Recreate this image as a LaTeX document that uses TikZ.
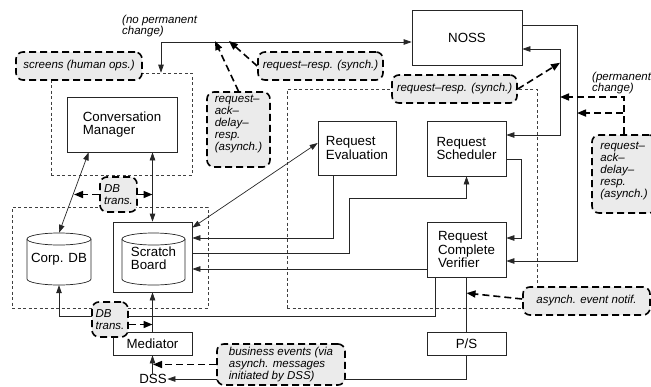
\documentclass[tikz,border=0pt]{standalone}
\usepackage{fontspec}
\setmainfont{Liberation Sans}
\usetikzlibrary{arrows.meta,calc}
\newcommand\boxfont{\fontsize{13.3}{13.5}\selectfont}
\newcommand\labfont{\fontsize{11.5}{11.9}\selectfont\itshape}
\begin{document}
\begin{tikzpicture}[x=1pt,y=-1pt,
  box/.style={draw=black!85, line width=0.7pt, fill=white, inner sep=0pt, align=left, font=\boxfont},
  ghost/.style={inner sep=0pt, align=left, font=\boxfont},
  grp/.style={draw=black!75, line width=0.6pt, dash pattern=on 3pt off 2.5pt, inner sep=0pt},
  call/.style={draw=black, line width=1.6pt, dash pattern=on 7pt off 4pt, fill=black!8, rounded corners=7pt, inner sep=0pt, align=left, font=\labfont},
  labtext/.style={inner sep=0pt, align=left, font=\labfont},
  con/.style={draw=black!85, line width=0.7pt},
  tip/.style={-{Triangle[length=8pt,width=5.5pt]}},
  dtip/.style={{Triangle[length=8pt,width=5.5pt]}-{Triangle[length=8pt,width=5.5pt]}},
  darr/.style={draw=black, line width=1.6pt, dash pattern=on 7pt off 4pt, -{Triangle[length=9pt,width=7pt]}}
]
\useasboundingbox (0,0) rectangle (651,386);

% group boxes
\node[grp, minimum width=141pt, minimum height=102pt] (gcm) at (121.5,124) {};
\node[grp, minimum width=196pt, minimum height=101pt] (gdb) at (110,257.5) {};
\node[grp, minimum width=250pt, minimum height=219pt] (grt) at (412,198.5) {};

% boxes
\node[box, minimum width=110pt, minimum height=55pt] (cm) at (122,124.5) {Conversation\\Manager};
\node[box, minimum width=110pt, minimum height=55pt] (noss) at (467,37.5) {NOSS};
\node[box, minimum width=78pt, minimum height=54pt] (re) at (357,148) {Request\\Evaluation};
\node[box, minimum width=79pt, minimum height=55pt] (rs) at (466.5,148.5) {Request\\Scheduler};
\node[box, minimum width=79pt, minimum height=55pt] (rcv) at (466.5,249.5) {Request\\Complete\\Verifier};
\node[box, minimum width=79pt, minimum height=23pt] (ps) at (466.5,343.5) {P/S};
\node[box, minimum width=79pt, minimum height=23pt] (med) at (152.5,343.5) {Mediator};
\node[box, minimum width=79pt, minimum height=70pt] (sb) at (152.5,257) {};
\node[ghost, inner sep=0.5pt] (dss) at (153,379) {DSS};

% cylinders
\draw[con,fill=white] (27,239) -- (27,279) arc[start angle=180,end angle=360,x radius=32pt,y radius=6pt] -- (91,239);
\draw[con,fill=white] (59,239) ellipse[x radius=32pt,y radius=6pt];
\node[ghost, minimum width=64pt, minimum height=52pt] (cdb) at (59,259) {Corp. DB};
\draw[con,fill=white] (122,239) -- (122,279) arc[start angle=180,end angle=360,x radius=31.5pt,y radius=6pt] -- (185,239);
\draw[con,fill=white] (153.5,239) ellipse[x radius=31.5pt,y radius=6pt];
\node[ghost, minimum width=63pt, minimum height=52pt] (sbc) at (153.5,258) {Scratch\\Board};

% helper coordinates
\coordinate (k161) at (161,42);
\coordinate (v577a) at (577,25);
\coordinate (v577b) at (577,261);
\coordinate (v560a) at (560,49);
\coordinate (v560b) at (560,135);
\coordinate (v521a) at (521,159);
\coordinate (v521b) at (521,238);
\coordinate (v333) at (333,238);
\coordinate (h253) at (349,253);
\coordinate (h198) at (349,198);
\coordinate (h269) at (400,269);
\coordinate (c435) at (435,316);
\coordinate (cmL) at ($(cm.south west)+(22,0)$);

% solid connectors
\draw[con,dtip] (k161 |- gcm.north) -- (k161) -- (noss.west |- k161);
\draw[con,tip] (noss.east |- v577a) -- (v577a) -- (v577b) -- (rcv.east |- v577b);
\draw[con,dtip] (noss.east |- v560a) -- (v560a) -- (v560b) -- (rs.east |- v560b);
\draw[con,tip] (rs.east |- v521a) -- (v521a) -- (v521b) -- (rcv.east |- v521b);
\draw[con,dtip] ($(re.west)+(0,-5)$) -- ($(sb.north east)+(0,6)$);
\draw[con,tip] (v333 |- re.south) -- (v333) -- (sb.east |- v333);
\draw[con,tip] (sb.east |- h253) -- (h253) -- (h198) -- (rs.south |- h198) -- (rs.south);
\draw[con,tip] (rcv.west |- h269) -- (sb.east |- h269);
\draw[con,tip] (c435 |- rcv.south) -- (c435) -- (cdb.south |- c435) -- (cdb.south);
\draw[con] (rcv.south) -- (ps.north);
\draw[con,tip] (ps.south) -- (ps.south |- dss.east) -- (dss.east);
\draw[con,tip] (med.south |- dss.north) -- (med.south);
\draw[con,tip] (med.north) -- (sb.south);
\draw[con,dtip] (sb.north |- cm.south) -- (sb.north);
\draw[con,dtip] (cmL) -- (cdb.north);

% callouts
\node[call, minimum width=126pt, minimum height=28pt] (scr) at (79,66) {screens (human ops.)};
\node[call, minimum width=125pt, minimum height=28pt] (rr1) at (320.5,66) {request–resp. (synch.)};
\node[call, minimum width=125pt, minimum height=28pt] (rr2) at (454.5,89) {request–resp. (synch.)};
\node[call, minimum width=63pt, minimum height=75pt] (rad1) at (238.5,129.5) {};
\node[labtext] (rad1t) at (238.5,124) {request–\\ack–\\delay–\\resp.\\(asynch.)};
\node[call, minimum width=64pt, minimum height=78pt] (rad2) at (624,174) {};
\node[labtext] (rad2t) at (624,171) {request–\\ack–\\delay–\\resp.\\(asynch.)};
\node[call, minimum width=37pt, minimum height=35pt] (db1) at (118.5,194.5) {DB\\trans.};
\node[call, minimum width=36pt, minimum height=35pt] (db2) at (110,319.5) {DB\\trans.};
\node[call, minimum width=128pt, minimum height=41pt] (bus) at (281,364.5) {business events (via\\asynch. messages\\initiated by DSS)};
\node[call, minimum width=127pt, minimum height=28pt] (asy) at (586.5,301) {asynch. event notif.};

% free texts
\node[labtext, anchor=west] (npc) at (122,26) {(no permanent\\change)};
\node[labtext, anchor=west] (pc) at (592,83) {(permanent\\change)};

% dashed arrows
\draw[darr] (rad1.north) -- ($(k161)+(54,-1)$);
\draw[darr] (rr1.west) -- ($(k161)+(68,-1)$);
\draw[darr] (rr2.east) -- ($(v560a)!0.16!(v560b)$);
\coordinate (tA) at ($(v560a)!0.558!(v560b)$);
\coordinate (tB) at ($(v577a)!0.373!(v577b)$);
\draw[darr] (rad2.north) -- (rad2.north |- tA) -- (tA);
\draw[darr] (rad2.north) -- (rad2.north |- tB) -- (tB);
\coordinate (cmdb) at (74,194.5);
\draw[darr] (db1.west) -- (cmdb);
\draw[darr] (db1.east) -- (sb.north |- db1.east);
\draw[darr] ($(db2.east)+(0,5)$) -- (sb.south |- {$(db2.east)+(0,5)$});
\draw[darr] (bus.west) -- (dss.north |- bus.west);
\draw[darr] ($(asy.west)+(0,-2)$) -- ($(rcv.south)!0.29!(ps.north)$);
\end{tikzpicture}
\end{document}
